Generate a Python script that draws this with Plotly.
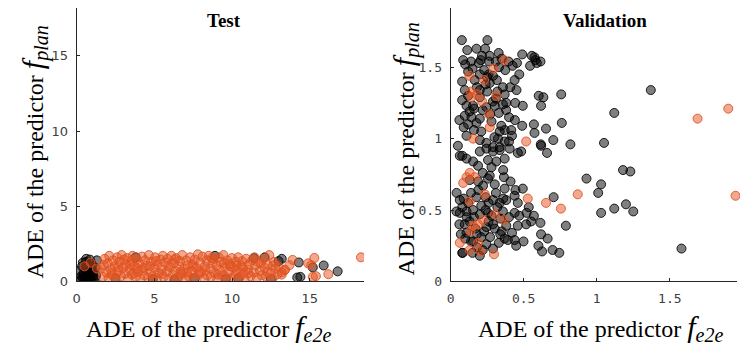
import plotly.graph_objects as go

GREY_FILL = "rgba(0,0,0,0.5)"
GREY_LINE = "rgba(0,0,0,0.85)"
ORANGE_FILL = "rgba(226,84,34,0.5)"
ORANGE_LINE = "rgba(226,84,34,0.9)"
AXIS = "#262626"
TICK_TXT = "#404040"
SERIF = "Liberation Serif, Times New Roman, serif"

OFF = 8  # the page body adds an 8px margin
W, H = 748 - 2 * OFF, 356 - 2 * OFF

# ---------------- Test ----------------
test_grey_x = [0.2, 0.3, 0.35, 0.4, 0.45, 0.5, 0.55, 0.6, 0.62, 0.66, 0.7, 0.75, 0.8, 0.85,
               0.9, 0.95, 1.0, 1.05, 1.1, 1.2, 1.25, 1.3, 0.3, 0.5, 0.7, 0.9, 1.1, 0.4, 0.6,
               0.8, 1.0, 1.2, 0.45, 0.65, 0.85,
               2.5, 3.8, 4.9, 6.3, 7.6, 8.9, 9.6, 10.4, 11.4, 12.1, 12.5, 13.0,
               14.2, 13.2, 14.3, 15.2, 15.9, 16.8, 14.4]
test_grey_y = [0.7, 0.35, 1.0, 0.2, 0.55, 0.9, 0.3, 1.3, 1.5, 0.6, 0.15, 1.1, 0.45, 0.25,
               0.8, 1.2, 0.35, 0.6, 0.2, 0.9, 0.4, 1.4, 0.15, 0.2, 0.45, 0.1, 0.7, 1.25, 0.1,
               0.6, 1.0, 0.2, 0.4, 0.85, 1.45,
               0.2, 1.6, 0.15, 0.1, 0.2, 1.7, 0.15, 0.2, 1.55, 1.6, 0.15, 1.35,
               0.26, 1.5, 1.26, 0.93, 1.06, 0.67, 0.3]

test_orange_x = [1.6, 1.7, 1.8, 1.9, 2.0, 2.05, 2.1, 2.2, 2.3, 2.35,
                 2.45, 2.5, 2.6, 2.7, 2.75, 2.85, 2.9, 3.0, 3.1, 3.15,
                 3.25, 3.3, 3.4, 3.5, 3.55, 3.6, 3.7, 3.8, 3.85, 3.95,
                 4.0, 4.1, 4.2, 4.25, 4.35, 4.4, 4.5, 4.6, 4.65, 4.75,
                 4.8, 4.9, 5.0, 5.05, 5.15, 5.2, 5.3, 5.4, 5.45, 5.55,
                 5.6, 5.7, 5.8, 5.85, 5.95, 6.0, 6.1, 6.2, 6.25, 6.35,
                 6.4, 6.5, 6.6, 6.65, 6.75, 6.8, 6.9, 7.0, 7.05, 7.15,
                 7.2, 7.3, 7.4, 7.45, 7.55, 7.6, 7.7, 7.8, 7.85, 7.95,
                 8.0, 8.1, 8.2, 8.25, 8.35, 8.4, 8.5, 8.6, 8.65, 8.75,
                 8.8, 8.9, 9.0, 9.05, 9.15, 9.2, 9.3, 9.4, 9.45, 9.55,
                 9.6, 9.7, 9.8, 9.85, 9.95, 10.0, 10.1, 10.2, 10.25, 10.35,
                 10.4, 10.5, 10.6, 10.65, 10.75, 10.8, 10.9, 11.0, 11.1, 11.2,
                 11.3, 11.4, 11.5, 11.6, 11.7, 11.8, 11.9, 12.0, 12.1, 12.2,
                 12.3, 12.4, 12.5, 12.6, 12.7, 12.8, 12.9, 13.0, 13.2, 13.4,
                 1.75, 2.25, 2.65, 3.05, 3.45, 3.9, 4.3, 4.7, 5.1, 5.5,
                 5.9, 6.3, 6.7, 7.1, 7.5, 7.9, 8.3, 8.7, 9.1, 9.5,
                 9.9, 10.3, 10.7, 11.05, 11.45, 11.85, 12.25, 12.65, 3.65, 6.55,
                 13.2, 13.4, 13.7, 13.9, 14.9, 15.1, 15.3, 15.4, 15.2, 16.2, 18.3,
                 0.5, 0.9, 1.3]
test_orange_y = [0.9, 0.3, 1.5, 0.6, 1.2, 0.2, 1.7, 0.8, 0.4, 1.4,
                 1.0, 0.25, 1.6, 0.7, 1.3, 0.35, 1.75, 0.9, 0.5, 1.15,
                 1.55, 0.2, 0.8, 1.35, 0.45, 1.7, 1.0, 0.3, 1.45, 0.65,
                 1.2, 0.15, 1.65, 0.75, 0.4, 1.4, 1.05, 0.25, 1.75, 0.6,
                 1.3, 0.35, 0.9, 1.6, 0.2, 1.1, 0.55, 1.45, 0.8, 1.7,
                 0.3, 1.25, 0.65, 1.5, 0.15, 0.95, 1.7, 0.45, 1.2, 0.7,
                 1.55, 0.25, 1.0, 1.35, 0.5, 1.75, 0.8, 0.2, 1.4, 1.05,
                 0.35, 1.6, 0.7, 1.15, 0.25, 1.45, 0.9, 1.8, 0.45, 1.25,
                 0.6, 1.65, 0.2, 1.0, 1.4, 0.4, 1.7, 0.85, 0.3, 1.2,
                 1.5, 0.55, 1.05, 0.2, 1.6, 0.75, 1.3, 0.4, 1.75, 0.95,
                 0.3, 1.4, 0.65, 1.15, 0.2, 1.55, 0.9, 0.45, 1.3, 0.7,
                 1.6, 0.3, 1.0, 1.35, 0.55, 0.2, 1.5, 0.8, 1.15, 0.35,
                 1.4, 0.6, 1.05, 0.25, 1.25, 0.7, 0.4, 1.5, 0.9, 0.3,
                 1.1, 1.75, 0.55, 0.2, 1.3, 0.85, 0.45, 1.0, 0.6, 0.75,
                 1.1, 0.55, 0.95, 1.45, 1.1, 0.85, 0.9, 1.0, 1.35, 0.5,
                 1.05, 1.45, 0.65, 0.6, 1.0, 0.65, 0.75, 1.55, 0.45, 1.2,
                 1.0, 1.05, 0.9, 0.55, 1.6, 1.2, 0.65, 1.05, 0.55, 0.3,
                 0.45, 0.77, 1.08, 1.43, 1.2, 1.08, 1.56, 0.35, 0.3, 0.48, 1.6,
                 1.0, 1.25, 0.85]

# ---------------- Validation ----------------
val_grey_x = [0.077, 0.252, 0.114, 0.177, 0.236, 0.215, 0.267, 0.329, 0.086, 0.14,
              0.193, 0.206, 0.263, 0.397, 0.454, 0.49, 0.556, 0.574, 0.615, 0.544,
              0.331, 0.374, 0.424, 0.47, 0.438, 0.079, 0.165, 0.268, 0.317, 0.358,
              0.408, 0.451, 0.097, 0.2, 0.29, 0.37, 0.381, 0.079, 0.109, 0.154,
              0.245, 0.302, 0.358, 0.442, 0.494, 0.603, 0.635, 0.619, 0.757, 0.097,
              0.143, 0.2, 0.12, 0.177, 0.347, 0.37, 0.415, 0.336, 0.109, 0.2,
              0.245, 0.324, 0.37, 0.574, 0.653, 0.703, 0.761, 0.617, 0.29, 0.336,
              0.57, 0.49, 0.62, 0.82, 0.66, 1.05, 1.12, 1.37, 0.46, 0.23,
              0.29, 0.12, 0.18, 0.25, 0.33, 0.40, 0.42, 0.16, 0.06, 0.28,
              0.21, 0.08, 0.05, 0.10, 0.15, 0.20, 0.26, 0.32, 0.22, 0.27,
              0.13, 0.38, 0.30, 0.44, 0.40, 0.09, 0.35, 0.31, 0.24, 0.58, 0.59,
              0.063, 0.109, 0.154, 0.2, 0.245, 0.29, 0.336, 0.256, 0.313, 0.37,
              0.483, 0.404, 0.188, 0.131, 0.188, 0.256, 0.268, 0.365, 0.222, 0.302,
              0.37, 0.444, 0.494, 0.041, 0.063, 0.177, 0.29, 0.336, 0.381, 0.438,
              0.535, 0.705, 0.063, 0.109, 0.154, 0.2, 0.256, 0.358, 0.438, 0.47,
              0.551, 0.615, 0.097, 0.109, 0.245, 0.302, 0.381, 0.46, 0.517, 0.082,
              0.154, 0.245, 0.29, 0.37, 0.392, 0.449, 0.438, 0.499, 0.619, 0.664,
              0.601, 0.626, 0.698, 0.744, 0.789,
              0.93, 1.03, 1.01, 1.18, 1.23, 1.20, 1.12, 1.25, 1.03, 1.58,
              0.08, 0.12, 0.16, 0.21, 0.26, 0.32, 0.34, 0.40, 0.14, 0.19,
              0.24, 0.10, 0.18, 0.22, 0.27, 0.33, 0.35, 0.42, 0.06, 0.04,
              0.08, 0.20, 0.15, 0.31, 0.41, 0.36, 0.28, 0.22, 0.46, 0.52,
              0.57, 0.07, 0.13, 0.23,
              0.11, 0.17, 0.24, 0.29, 0.36, 0.14, 0.21, 0.28, 0.34, 0.09,
              0.18, 0.26, 0.12, 0.20, 0.31, 0.16, 0.25]
val_grey_y = [1.69, 1.69, 1.62, 1.63, 1.63, 1.58, 1.58, 1.60, 1.55, 1.54,
              1.53, 1.55, 1.54, 1.54, 1.53, 1.59, 1.58, 1.57, 1.54, 1.51,
              1.50, 1.48, 1.51, 1.45, 1.41, 1.40, 1.41, 1.39, 1.41, 1.36,
              1.36, 1.34, 1.34, 1.29, 1.26, 1.31, 1.25, 1.27, 1.23, 1.23,
              1.22, 1.23, 1.24, 1.25, 1.23, 1.30, 1.29, 1.23, 1.31, 1.16,
              1.15, 1.14, 1.10, 1.11, 1.09, 1.06, 1.06, 1.05, 1.02, 0.99,
              0.97, 1.00, 0.98, 1.04, 1.07, 0.99, 1.11, 0.96, 0.94, 0.94,
              1.10, 1.09, 0.95, 0.96, 0.90, 0.97, 1.18, 1.34, 0.90, 1.48,
              1.44, 1.47, 1.36, 1.33, 1.18, 1.15, 1.02, 1.06, 1.13, 1.12,
              1.05, 0.88, 0.95, 1.52, 1.49, 1.45, 1.45, 1.33, 1.20, 1.17,
              1.19, 1.20, 1.01, 1.13, 0.98, 1.08, 1.56, 1.54, 1.38, 1.55, 1.53,
              0.88, 0.86, 0.84, 0.91, 0.93, 0.91, 0.92, 0.85, 0.84, 0.86,
              0.91, 0.93, 0.81, 0.71, 0.70, 0.72, 0.74, 0.73, 0.67, 0.68,
              0.65, 0.64, 0.65, 0.62, 0.57, 0.59, 0.57, 0.55, 0.57, 0.60,
              0.52, 0.59, 0.48, 0.49, 0.50, 0.47, 0.48, 0.49, 0.48, 0.46,
              0.42, 0.41, 0.40, 0.34, 0.38, 0.37, 0.39, 0.39, 0.40, 0.20,
              0.28, 0.26, 0.23, 0.30, 0.29, 0.25, 0.29, 0.28, 0.33, 0.30,
              0.25, 0.21, 0.22, 0.20, 0.39,
              0.72, 0.68, 0.62, 0.78, 0.77, 0.54, 0.51, 0.49, 0.48, 0.23,
              0.52, 0.55, 0.45, 0.53, 0.42, 0.52, 0.44, 0.45, 0.62, 0.64,
              0.59, 0.30, 0.33, 0.22, 0.31, 0.27, 0.35, 0.34, 0.40, 0.49,
              0.20, 0.18, 0.20, 0.62, 0.70, 0.78, 0.80, 0.76, 0.55, 0.48,
              0.46, 0.33, 0.42, 0.35,
              0.45, 0.37, 0.50, 0.40, 0.58, 0.28, 0.31, 0.46, 0.33, 0.58,
              0.24, 0.55, 1.30, 1.34, 1.28, 1.21, 1.43]

val_orange_x = [0.365, 0.293, 0.129, 0.229, 0.138, 0.181, 0.143, 0.216, 0.313, 0.263,
                0.268, 0.154, 0.517,
                0.131, 0.109, 0.165, 0.086, 0.234, 0.131, 0.528, 0.653, 0.755, 0.87,
                0.302, 0.365, 0.222, 0.188, 0.154, 0.136, 0.063, 0.188, 0.131, 0.206,
                0.297, 1.69, 1.90, 1.95]
val_orange_y = [1.55, 1.49, 1.44, 1.41, 1.33, 1.31, 1.29, 1.26, 1.30, 1.17,
                1.08, 1.00, 0.98,
                0.76, 0.73, 0.73, 0.69, 0.61, 0.56, 0.58, 0.55, 0.51, 0.61,
                0.47, 0.43, 0.43, 0.40, 0.39, 0.35, 0.27, 0.27, 0.22, 0.21,
                0.19, 1.14, 1.21, 0.60]

test_ticks = [0, 5, 10, 15]
val_ticks = [0, 0.5, 1, 1.5]


def px_x(px):
    return (px - OFF) / W


def px_y(py):
    return 1 - (py - OFF) / H


def dots(x, y, fill, line, xa, ya, clip=True):
    return go.Scatter(x=x, y=y, mode="markers", xaxis=xa, yaxis=ya,
                      cliponaxis=clip, showlegend=False, hoverinfo="skip",
                      marker=dict(size=9, color=fill, line=dict(color=line, width=1)))


fig = go.Figure()
fig.add_trace(dots(test_grey_x, test_grey_y, GREY_FILL, GREY_LINE, "x", "y"))
fig.add_trace(dots(test_orange_x, test_orange_y, ORANGE_FILL, ORANGE_LINE, "x", "y"))
fig.add_trace(dots(val_grey_x, val_grey_y, GREY_FILL, GREY_LINE, "x2", "y2", clip=False))
fig.add_trace(dots(val_orange_x, val_orange_y, ORANGE_FILL, ORANGE_LINE, "x2", "y2", clip=False))

axis_common = dict(showline=True, linecolor=AXIS, linewidth=1, mirror=False,
                   ticks="inside", ticklen=3, tickcolor=AXIS, showgrid=False,
                   zeroline=False, ticklabelstandoff=5)
# the axes top sits at the very top of the page, so the range is cut to keep scale
ydom = [px_y(288), 1.0]
sans = dict(family="DejaVu Sans", size=13, color=TICK_TXT)
mono = dict(family="DejaVu Sans Mono", size=13, color=TICK_TXT)

fig.update_layout(
    width=W, height=H,
    margin=dict(l=0, r=0, t=0, b=0),
    plot_bgcolor="white", paper_bgcolor="white",
    xaxis=dict(domain=[px_x(73), px_x(362)], range=[0, 18.5], tickvals=test_ticks,
               tickfont=sans, anchor="y", **axis_common),
    yaxis=dict(domain=ydom, range=[0, 18.18], tickvals=test_ticks,
               tickfont=sans, anchor="x", **axis_common),
    xaxis2=dict(domain=[px_x(449), px_x(737)], range=[0, 1.96], tickvals=val_ticks,
                tickfont=mono, anchor="y2", **axis_common),
    yaxis2=dict(domain=ydom, range=[0, 1.915], tickvals=val_ticks,
                tickfont=mono, anchor="x2", **axis_common),
)

F = "<span style='font-size:30px'><i>f</i></span>"
xlab = "ADE of the predictor " + F + "<sub><span style='font-size:20px'><i>e2e</i></span></sub>"
ylab = "ADE of the predictor " + F + "<sub><span style='font-size:20px'><i>plan</i></span></sub>"


def note(text, px, py, size=24, angle=0, bold=False):
    if bold:
        text = "<b>" + text + "</b>"
    fig.add_annotation(text=text, xref="paper", yref="paper", x=px_x(px), y=px_y(py),
                       xanchor="center", yanchor="middle", showarrow=False,
                       textangle=angle, font=dict(family=SERIF, size=size, color="black"))


note("Test", 221, 21, size=19, bold=True)
note("Validation", 604, 21, size=19, bold=True)
note(xlab, 206, 336)
note(xlab, 600, 336)
note(ylab, 31, 155, angle=-90)
note(ylab, 404, 152, angle=-90)

fig.write_html("out.html")
